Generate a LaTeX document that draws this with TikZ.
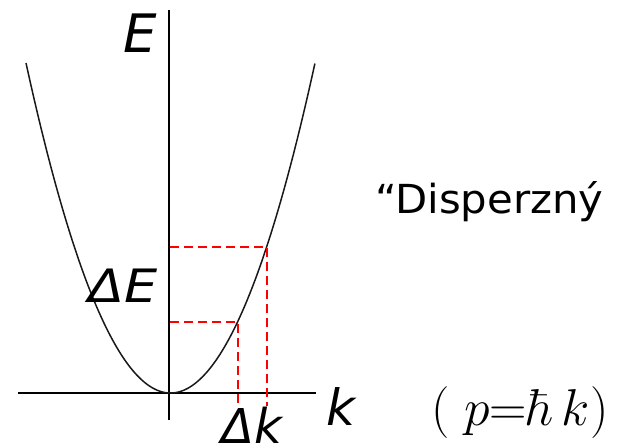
\documentclass[tikz,border=0pt]{standalone}
\usepackage{fontspec}
\usepackage{graphicx}
\newfontfamily\dvs{DejaVu Sans}
\begin{document}
\begin{tikzpicture}[x=1pt,y=-1pt,
  axis/.style={line width=1.6pt,black},
  curve/.style={line width=1.5pt,black!90},
  guide/.style={line width=1.6pt,red,dash pattern=on 9pt off 5pt},
  lbl/.style={inner sep=0pt,outer sep=0pt,anchor=base},
]
\useasboundingbox (0,0) rectangle (617,445);
% axes
\coordinate (yb) at (169,420);
\coordinate (yt) at (169,10);
\coordinate (xl) at (18,393);
\coordinate (xr) at (316,393);
\draw[axis] (yb) -- (yt);
\draw[axis] (xl) -- (xr);
% parabola
\draw[curve] plot[domain=-1:1,samples=120] ({170.5+144.5*\x},{393-330*\x*\x});
% guide points
\coordinate (p1) at (267,247);
\coordinate (p2) at (238,322);
\coordinate (a1) at (170,247);
\coordinate (a2) at (170,322);
\coordinate (b1) at (267,406);
\coordinate (b2) at (238,406);
\draw[guide] (a1) -- (p1) -- (b1);
\draw[guide] (a2) -- (p2) -- (b2);
% labels
\node[lbl,font=\dvs\itshape\fontsize{53}{53}\selectfont] (E) at (140,52) {E};
\node[lbl,font=\dvs\itshape\fontsize{46}{46}\selectfont] (dE) at (123,302) {\scalebox{1.14}[1]{ΔE}};
\node[lbl,font=\dvs\itshape\fontsize{50}{50}\selectfont] (k) at (341,425) {k};
\node[lbl,font=\dvs\itshape\fontsize{48}{48}\selectfont] (dk) at (252,443) {Δk};
\node[lbl,anchor=base west,font=\dvs\fontsize{40}{40}\selectfont] (disp) at (375,213) {\scalebox{1.045}[1]{“Disperzný}};
\node[lbl,font=\fontsize{20}{20}\selectfont] (eq) at (520,425) {\scalebox{2.5}{$(\;p{=}\hbar\,k)$}};
\end{tikzpicture}
\end{document}
